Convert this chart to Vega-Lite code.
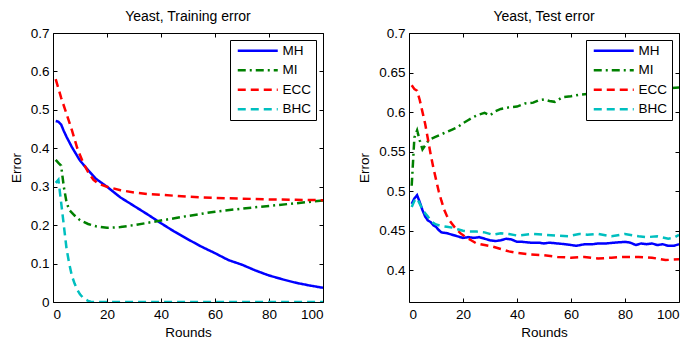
{
  "$schema": "https://vega.github.io/schema/vega-lite/v6.json",
  "padding": {"left": 8, "top": 9, "right": 5, "bottom": 5},
  "spacing": 86,
  "bounds": "flush",
  "config": {
    "view": {"stroke": "black", "strokeWidth": 1},
    "font": "Liberation Sans",
    "axis": {"grid": false, "domain": false, "tickColor": "black", "tickSize": -4, "tickWidth": 1, "labelFontSize": 13.5, "labelColor": "black", "titleFontSize": 13.5, "titleFontWeight": "normal", "titleColor": "black", "labelFont": "Liberation Sans", "titleFont": "Liberation Sans"},
    "axisX": {"labelPadding": 9.5, "titlePadding": 4},
    "axisY": {"labelPadding": 8, "titlePadding": 7},
    "title": {"fontSize": 14, "fontWeight": "normal", "color": "black", "font": "Liberation Sans", "offset": 2, "baseline": "alphabetic", "frame": "group"},
    "legend": {"orient": "top-right", "offset": 7, "symbolType": "M-0.6,0H7.4", "symbolSize": 100, "symbolStrokeWidth": 2.5, "labelOffset": 35, "rowPadding": 4.5, "padding": 4, "strokeColor": "black", "fillColor": "white", "labelFontSize": 13.5, "labelColor": "black", "labelFont": "Liberation Sans"}
  },
  "datasets": {
    "train": [
      {"round": 1, "series": "MH", "error": 0.471}, {"round": 2, "series": "MH", "error": 0.469}, {"round": 3, "series": "MH", "error": 0.462}, {"round": 4, "series": "MH", "error": 0.445}, {"round": 5, "series": "MH", "error": 0.43}, {"round": 7, "series": "MH", "error": 0.403}, {"round": 10, "series": "MH", "error": 0.368}, {"round": 13, "series": "MH", "error": 0.343}, {"round": 16, "series": "MH", "error": 0.32}, {"round": 20, "series": "MH", "error": 0.3}, {"round": 25, "series": "MH", "error": 0.272}, {"round": 30, "series": "MH", "error": 0.25}, {"round": 35, "series": "MH", "error": 0.228}, {"round": 40, "series": "MH", "error": 0.205}, {"round": 45, "series": "MH", "error": 0.183}, {"round": 50, "series": "MH", "error": 0.163}, {"round": 55, "series": "MH", "error": 0.144}, {"round": 60, "series": "MH", "error": 0.127}, {"round": 65, "series": "MH", "error": 0.109}, {"round": 70, "series": "MH", "error": 0.097}, {"round": 75, "series": "MH", "error": 0.082}, {"round": 80, "series": "MH", "error": 0.069}, {"round": 85, "series": "MH", "error": 0.059}, {"round": 90, "series": "MH", "error": 0.05}, {"round": 95, "series": "MH", "error": 0.043}, {"round": 100, "series": "MH", "error": 0.037},
      {"round": 1, "series": "MI", "error": 0.37}, {"round": 2, "series": "MI", "error": 0.362}, {"round": 3, "series": "MI", "error": 0.355}, {"round": 4, "series": "MI", "error": 0.3}, {"round": 5, "series": "MI", "error": 0.26}, {"round": 6, "series": "MI", "error": 0.24}, {"round": 8, "series": "MI", "error": 0.225}, {"round": 10, "series": "MI", "error": 0.213}, {"round": 13, "series": "MI", "error": 0.203}, {"round": 16, "series": "MI", "error": 0.197}, {"round": 20, "series": "MI", "error": 0.193}, {"round": 25, "series": "MI", "error": 0.195}, {"round": 30, "series": "MI", "error": 0.2}, {"round": 35, "series": "MI", "error": 0.206}, {"round": 40, "series": "MI", "error": 0.212}, {"round": 45, "series": "MI", "error": 0.218}, {"round": 50, "series": "MI", "error": 0.224}, {"round": 60, "series": "MI", "error": 0.235}, {"round": 70, "series": "MI", "error": 0.243}, {"round": 80, "series": "MI", "error": 0.25}, {"round": 90, "series": "MI", "error": 0.257}, {"round": 100, "series": "MI", "error": 0.264},
      {"round": 1, "series": "ECC", "error": 0.58}, {"round": 2, "series": "ECC", "error": 0.556}, {"round": 3, "series": "ECC", "error": 0.532}, {"round": 5, "series": "ECC", "error": 0.49}, {"round": 7, "series": "ECC", "error": 0.447}, {"round": 9, "series": "ECC", "error": 0.4}, {"round": 11, "series": "ECC", "error": 0.365}, {"round": 13, "series": "ECC", "error": 0.338}, {"round": 15, "series": "ECC", "error": 0.318}, {"round": 17, "series": "ECC", "error": 0.307}, {"round": 20, "series": "ECC", "error": 0.3}, {"round": 25, "series": "ECC", "error": 0.291}, {"round": 30, "series": "ECC", "error": 0.285}, {"round": 35, "series": "ECC", "error": 0.281}, {"round": 40, "series": "ECC", "error": 0.279}, {"round": 50, "series": "ECC", "error": 0.274}, {"round": 60, "series": "ECC", "error": 0.271}, {"round": 70, "series": "ECC", "error": 0.269}, {"round": 80, "series": "ECC", "error": 0.267}, {"round": 90, "series": "ECC", "error": 0.266}, {"round": 100, "series": "ECC", "error": 0.265},
      {"round": 1, "series": "BHC", "error": 0.31}, {"round": 2, "series": "BHC", "error": 0.318}, {"round": 3, "series": "BHC", "error": 0.26}, {"round": 4, "series": "BHC", "error": 0.2}, {"round": 5, "series": "BHC", "error": 0.14}, {"round": 6, "series": "BHC", "error": 0.1}, {"round": 7, "series": "BHC", "error": 0.068}, {"round": 8, "series": "BHC", "error": 0.048}, {"round": 9, "series": "BHC", "error": 0.032}, {"round": 10, "series": "BHC", "error": 0.02}, {"round": 11, "series": "BHC", "error": 0.012}, {"round": 12, "series": "BHC", "error": 0.007}, {"round": 13, "series": "BHC", "error": 0.003}, {"round": 14, "series": "BHC", "error": 0.001}, {"round": 15, "series": "BHC", "error": 0}, {"round": 20, "series": "BHC", "error": 0}, {"round": 30, "series": "BHC", "error": 0}, {"round": 40, "series": "BHC", "error": 0}, {"round": 50, "series": "BHC", "error": 0}, {"round": 60, "series": "BHC", "error": 0}, {"round": 70, "series": "BHC", "error": 0}, {"round": 80, "series": "BHC", "error": 0}, {"round": 90, "series": "BHC", "error": 0}, {"round": 100, "series": "BHC", "error": 0}
    ],
    "test": [
      {"round": 1, "series": "MH", "error": 0.484}, {"round": 2, "series": "MH", "error": 0.491}, {"round": 3, "series": "MH", "error": 0.495}, {"round": 4, "series": "MH", "error": 0.486}, {"round": 5, "series": "MH", "error": 0.476}, {"round": 6, "series": "MH", "error": 0.468}, {"round": 7, "series": "MH", "error": 0.463}, {"round": 8, "series": "MH", "error": 0.461}, {"round": 9, "series": "MH", "error": 0.457}, {"round": 10, "series": "MH", "error": 0.455}, {"round": 11, "series": "MH", "error": 0.451}, {"round": 12, "series": "MH", "error": 0.448}, {"round": 14, "series": "MH", "error": 0.447}, {"round": 16, "series": "MH", "error": 0.445}, {"round": 18, "series": "MH", "error": 0.443}, {"round": 20, "series": "MH", "error": 0.441}, {"round": 22, "series": "MH", "error": 0.442}, {"round": 24, "series": "MH", "error": 0.441}, {"round": 26, "series": "MH", "error": 0.442}, {"round": 28, "series": "MH", "error": 0.44}, {"round": 30, "series": "MH", "error": 0.438}, {"round": 32, "series": "MH", "error": 0.437}, {"round": 34, "series": "MH", "error": 0.438}, {"round": 36, "series": "MH", "error": 0.44}, {"round": 38, "series": "MH", "error": 0.439}, {"round": 40, "series": "MH", "error": 0.436}, {"round": 42, "series": "MH", "error": 0.436}, {"round": 45, "series": "MH", "error": 0.435}, {"round": 48, "series": "MH", "error": 0.435}, {"round": 50, "series": "MH", "error": 0.434}, {"round": 52, "series": "MH", "error": 0.435}, {"round": 55, "series": "MH", "error": 0.434}, {"round": 58, "series": "MH", "error": 0.433}, {"round": 60, "series": "MH", "error": 0.432}, {"round": 62, "series": "MH", "error": 0.431}, {"round": 65, "series": "MH", "error": 0.433}, {"round": 68, "series": "MH", "error": 0.433}, {"round": 70, "series": "MH", "error": 0.434}, {"round": 73, "series": "MH", "error": 0.434}, {"round": 76, "series": "MH", "error": 0.435}, {"round": 80, "series": "MH", "error": 0.436}, {"round": 82, "series": "MH", "error": 0.435}, {"round": 84, "series": "MH", "error": 0.432}, {"round": 86, "series": "MH", "error": 0.434}, {"round": 88, "series": "MH", "error": 0.433}, {"round": 90, "series": "MH", "error": 0.434}, {"round": 92, "series": "MH", "error": 0.432}, {"round": 94, "series": "MH", "error": 0.433}, {"round": 96, "series": "MH", "error": 0.431}, {"round": 98, "series": "MH", "error": 0.431}, {"round": 100, "series": "MH", "error": 0.433},
      {"round": 1, "series": "MI", "error": 0.507}, {"round": 2, "series": "MI", "error": 0.568}, {"round": 3, "series": "MI", "error": 0.577}, {"round": 4, "series": "MI", "error": 0.564}, {"round": 5, "series": "MI", "error": 0.553}, {"round": 6, "series": "MI", "error": 0.558}, {"round": 7, "series": "MI", "error": 0.563}, {"round": 8, "series": "MI", "error": 0.566}, {"round": 10, "series": "MI", "error": 0.569}, {"round": 12, "series": "MI", "error": 0.572}, {"round": 14, "series": "MI", "error": 0.575}, {"round": 16, "series": "MI", "error": 0.578}, {"round": 18, "series": "MI", "error": 0.581}, {"round": 20, "series": "MI", "error": 0.586}, {"round": 22, "series": "MI", "error": 0.59}, {"round": 24, "series": "MI", "error": 0.594}, {"round": 26, "series": "MI", "error": 0.597}, {"round": 28, "series": "MI", "error": 0.599}, {"round": 30, "series": "MI", "error": 0.596}, {"round": 32, "series": "MI", "error": 0.601}, {"round": 34, "series": "MI", "error": 0.604}, {"round": 37, "series": "MI", "error": 0.606}, {"round": 40, "series": "MI", "error": 0.607}, {"round": 43, "series": "MI", "error": 0.611}, {"round": 46, "series": "MI", "error": 0.612}, {"round": 48, "series": "MI", "error": 0.615}, {"round": 50, "series": "MI", "error": 0.616}, {"round": 52, "series": "MI", "error": 0.614}, {"round": 54, "series": "MI", "error": 0.613}, {"round": 57, "series": "MI", "error": 0.619}, {"round": 60, "series": "MI", "error": 0.62}, {"round": 63, "series": "MI", "error": 0.622}, {"round": 66, "series": "MI", "error": 0.623}, {"round": 70, "series": "MI", "error": 0.624}, {"round": 75, "series": "MI", "error": 0.625}, {"round": 80, "series": "MI", "error": 0.627}, {"round": 85, "series": "MI", "error": 0.628}, {"round": 90, "series": "MI", "error": 0.629}, {"round": 95, "series": "MI", "error": 0.63}, {"round": 100, "series": "MI", "error": 0.631},
      {"round": 1, "series": "ECC", "error": 0.634}, {"round": 2, "series": "ECC", "error": 0.629}, {"round": 3, "series": "ECC", "error": 0.627}, {"round": 4, "series": "ECC", "error": 0.615}, {"round": 5, "series": "ECC", "error": 0.6}, {"round": 6, "series": "ECC", "error": 0.585}, {"round": 7, "series": "ECC", "error": 0.566}, {"round": 8, "series": "ECC", "error": 0.547}, {"round": 9, "series": "ECC", "error": 0.53}, {"round": 10, "series": "ECC", "error": 0.515}, {"round": 11, "series": "ECC", "error": 0.5}, {"round": 12, "series": "ECC", "error": 0.488}, {"round": 13, "series": "ECC", "error": 0.477}, {"round": 14, "series": "ECC", "error": 0.469}, {"round": 15, "series": "ECC", "error": 0.463}, {"round": 17, "series": "ECC", "error": 0.454}, {"round": 19, "series": "ECC", "error": 0.447}, {"round": 21, "series": "ECC", "error": 0.442}, {"round": 23, "series": "ECC", "error": 0.438}, {"round": 25, "series": "ECC", "error": 0.434}, {"round": 28, "series": "ECC", "error": 0.432}, {"round": 31, "series": "ECC", "error": 0.43}, {"round": 34, "series": "ECC", "error": 0.427}, {"round": 37, "series": "ECC", "error": 0.424}, {"round": 40, "series": "ECC", "error": 0.422}, {"round": 45, "series": "ECC", "error": 0.42}, {"round": 50, "series": "ECC", "error": 0.419}, {"round": 55, "series": "ECC", "error": 0.417}, {"round": 60, "series": "ECC", "error": 0.416}, {"round": 65, "series": "ECC", "error": 0.417}, {"round": 70, "series": "ECC", "error": 0.415}, {"round": 75, "series": "ECC", "error": 0.416}, {"round": 80, "series": "ECC", "error": 0.417}, {"round": 85, "series": "ECC", "error": 0.417}, {"round": 90, "series": "ECC", "error": 0.416}, {"round": 95, "series": "ECC", "error": 0.413}, {"round": 100, "series": "ECC", "error": 0.414},
      {"round": 1, "series": "BHC", "error": 0.48}, {"round": 2, "series": "BHC", "error": 0.488}, {"round": 3, "series": "BHC", "error": 0.491}, {"round": 4, "series": "BHC", "error": 0.484}, {"round": 5, "series": "BHC", "error": 0.477}, {"round": 6, "series": "BHC", "error": 0.472}, {"round": 7, "series": "BHC", "error": 0.468}, {"round": 8, "series": "BHC", "error": 0.463}, {"round": 9, "series": "BHC", "error": 0.46}, {"round": 10, "series": "BHC", "error": 0.458}, {"round": 12, "series": "BHC", "error": 0.456}, {"round": 14, "series": "BHC", "error": 0.455}, {"round": 16, "series": "BHC", "error": 0.454}, {"round": 18, "series": "BHC", "error": 0.452}, {"round": 20, "series": "BHC", "error": 0.45}, {"round": 22, "series": "BHC", "error": 0.449}, {"round": 25, "series": "BHC", "error": 0.449}, {"round": 28, "series": "BHC", "error": 0.448}, {"round": 31, "series": "BHC", "error": 0.445}, {"round": 34, "series": "BHC", "error": 0.447}, {"round": 37, "series": "BHC", "error": 0.446}, {"round": 40, "series": "BHC", "error": 0.444}, {"round": 43, "series": "BHC", "error": 0.445}, {"round": 46, "series": "BHC", "error": 0.446}, {"round": 50, "series": "BHC", "error": 0.445}, {"round": 55, "series": "BHC", "error": 0.444}, {"round": 59, "series": "BHC", "error": 0.443}, {"round": 63, "series": "BHC", "error": 0.446}, {"round": 66, "series": "BHC", "error": 0.445}, {"round": 70, "series": "BHC", "error": 0.446}, {"round": 75, "series": "BHC", "error": 0.443}, {"round": 80, "series": "BHC", "error": 0.446}, {"round": 85, "series": "BHC", "error": 0.443}, {"round": 88, "series": "BHC", "error": 0.442}, {"round": 92, "series": "BHC", "error": 0.443}, {"round": 96, "series": "BHC", "error": 0.44}, {"round": 98, "series": "BHC", "error": 0.441}, {"round": 100, "series": "BHC", "error": 0.445}
    ]
  },
  "hconcat": [
    {
      "width": 270, "height": 269,
      "title": "Yeast, Training error",
      "data": {"name": "train"},
      "layer": [
        {
          "mark": {"type": "line", "strokeWidth": 2.5, "clip": true},
          "encoding": {
            "x": {"field": "round", "type": "quantitative", "scale": {"domain": [0, 100], "nice": false}, "axis": {"values": [0, 20, 40, 60, 80, 100], "title": "Rounds", "format": "d"}},
            "y": {"field": "error", "type": "quantitative", "scale": {"domain": [0, 0.7], "nice": false, "zero": false}, "axis": {"values": [0, 0.1, 0.2, 0.3, 0.4, 0.5, 0.6, 0.7], "title": "Error", "format": ".1~f"}},
            "color": {"field": "series", "type": "nominal", "scale": {"domain": ["MH", "MI", "ECC", "BHC"], "range": ["#0000FF", "#008000", "#FF0000", "#00BFBF"]}, "legend": {"title": null}},
            "strokeDash": {"field": "series", "type": "nominal", "scale": {"domain": ["MH", "MI", "ECC", "BHC"], "range": [[1, 0], [8, 4, 2, 4], [8, 5], [8, 5]]}, "legend": {"title": null}}
          }
        },
        {
          "mark": {"type": "line", "opacity": 0},
          "encoding": {
            "x": {"field": "round", "type": "quantitative", "axis": {"orient": "top", "labels": false, "title": null, "values": [0, 20, 40, 60, 80, 100]}},
            "y": {"field": "error", "type": "quantitative", "axis": {"orient": "right", "labels": false, "title": null, "values": [0, 0.1, 0.2, 0.3, 0.4, 0.5, 0.6, 0.7]}},
            "detail": {"field": "series"}
          }
        }
      ],
      "resolve": {"axis": {"x": "independent", "y": "independent"}}
    },
    {
      "width": 270, "height": 269,
      "title": "Yeast, Test error",
      "data": {"name": "test"},
      "layer": [
        {
          "mark": {"type": "line", "strokeWidth": 2.5, "clip": true},
          "encoding": {
            "x": {"field": "round", "type": "quantitative", "scale": {"domain": [0, 100], "nice": false}, "axis": {"values": [0, 20, 40, 60, 80, 100], "title": "Rounds", "format": "d"}},
            "y": {"field": "error", "type": "quantitative", "scale": {"domain": [0.36, 0.7], "nice": false, "zero": false}, "axis": {"values": [0.4, 0.45, 0.5, 0.55, 0.6, 0.65, 0.7], "title": "Error", "format": ".2~f"}},
            "color": {"field": "series", "type": "nominal", "scale": {"domain": ["MH", "MI", "ECC", "BHC"], "range": ["#0000FF", "#008000", "#FF0000", "#00BFBF"]}, "legend": {"title": null}},
            "strokeDash": {"field": "series", "type": "nominal", "scale": {"domain": ["MH", "MI", "ECC", "BHC"], "range": [[1, 0], [8, 4, 2, 4], [8, 5], [8, 5]]}, "legend": {"title": null}}
          }
        },
        {
          "mark": {"type": "line", "opacity": 0},
          "encoding": {
            "x": {"field": "round", "type": "quantitative", "axis": {"orient": "top", "labels": false, "title": null, "values": [0, 20, 40, 60, 80, 100]}},
            "y": {"field": "error", "type": "quantitative", "axis": {"orient": "right", "labels": false, "title": null, "values": [0.4, 0.45, 0.5, 0.55, 0.6, 0.65, 0.7]}},
            "detail": {"field": "series"}
          }
        }
      ],
      "resolve": {"axis": {"x": "independent", "y": "independent"}}
    }
  ],
  "resolve": {"scale": {"color": "independent", "strokeDash": "independent", "x": "independent", "y": "independent"}, "legend": {"color": "independent", "strokeDash": "independent"}}
}
